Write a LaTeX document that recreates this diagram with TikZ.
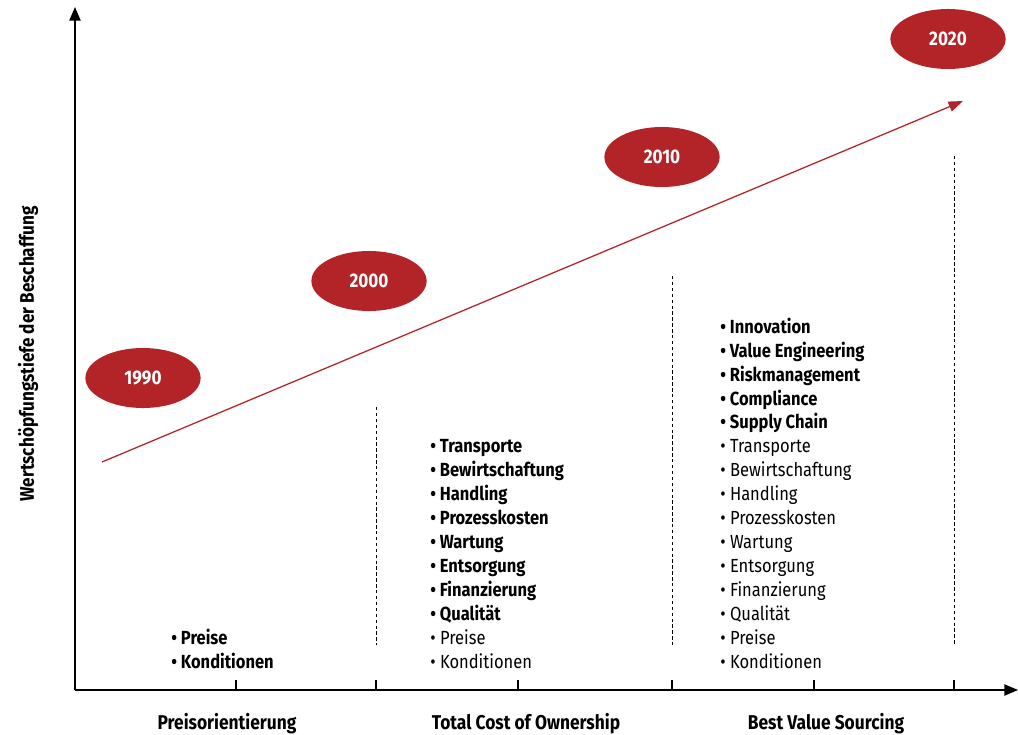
\documentclass[tikz,border=0pt]{standalone}
\usepackage{fontspec}
\setmainfont{Fira Sans}[FakeStretch=0.87]
\usetikzlibrary{arrows.meta, shapes.geometric}
\definecolor{YearRed}{HTML}{B22427}
\tikzset{
  yearbox/.style={ellipse, fill=YearRed, text=white, inner sep=0pt,
    minimum width=2.88cm, minimum height=1.5cm,
    font=\bfseries\fontsize{14}{16}\selectfont},
  axis/.style={-{Triangle[length=3.4mm, width=2.8mm]}, line width=1.1pt},
  trend/.style={-{Triangle[length=3.6mm, width=2.6mm]}, draw=YearRed, line width=0.9pt},
  sep/.style={dash pattern=on 2.4pt off 1.8pt, line width=0.6pt},
  tick/.style={line width=0.8pt},
  phase/.style={font=\bfseries\fontsize{14.2}{17}\selectfont, anchor=base},
  itemlist/.style={align=left, anchor=base west, inner sep=0pt,
    font=\fontsize{13.5}{17}\selectfont},
}

\begin{document}
\begin{tikzpicture}[x=0.025cm, y=-0.025cm]
  \useasboundingbox (0,0) rectangle (1018,735);

  % axes
  \coordinate (o) at (75,690);
  \coordinate (ytop) at (75,7);
  \coordinate (xend) at (1018,690);
  \draw[axis] (o) -- (ytop);
  \draw[axis] (o) -- (xend);

  % ticks and phase borders
  \foreach \x in {236,376,518,672,814,954}
    \draw[tick] (\x,690) -- (\x,680);
  \draw[sep] (376,407) -- (376,645);
  \draw[sep] (672,276) -- (672,645);
  \draw[sep] (954,156) -- (954,645);

  % trend
  \coordinate (t0) at (102,462);
  \coordinate (t1) at (963,101);
  \draw[trend] (t0) -- (t1);

  \node[yearbox] (y1990) at (143,378) {1990};
  \node[yearbox] (y2000) at (369,281) {2000};
  \node[yearbox] (y2010) at (662,157) {2010};
  \node[yearbox] (y2020) at (948,39) {2020};

  \node[rotate=90, font=\bfseries\fontsize{14}{16}\selectfont] (ylabel) at (28,354)
    {Wertschöpfungstiefe der Beschaffung};

  \node[phase] (p1) at (227,729) {Preisorientierung};
  \node[phase] (p2) at (526,729) {Total Cost of Ownership};
  \node[phase] (p3) at (826,729) {Best Value Sourcing};

  % contents per phase, anchored at the last line
  \node[itemlist] (l1) at (171,668)
    {\bfseries • Preise\\\bfseries • Konditionen};
  \node[itemlist] (l2) at (430,668)
    {\bfseries • Transporte\\\bfseries • Bewirtschaftung\\\bfseries • Handling\\
     \bfseries • Prozesskosten\\\bfseries • Wartung\\\bfseries • Entsorgung\\
     \bfseries • Finanzierung\\\bfseries • Qualität\\• Preise\\• Konditionen};
  \node[itemlist] (l3) at (720,668)
    {\bfseries • Innovation\\\bfseries • Value Engineering\\\bfseries • Riskmanagement\\
     \bfseries • Compliance\\\bfseries • Supply Chain\\• Transporte\\• Bewirtschaftung\\
     • Handling\\• Prozesskosten\\• Wartung\\• Entsorgung\\• Finanzierung\\• Qualität\\
     • Preise\\• Konditionen};
\end{tikzpicture}
\end{document}
